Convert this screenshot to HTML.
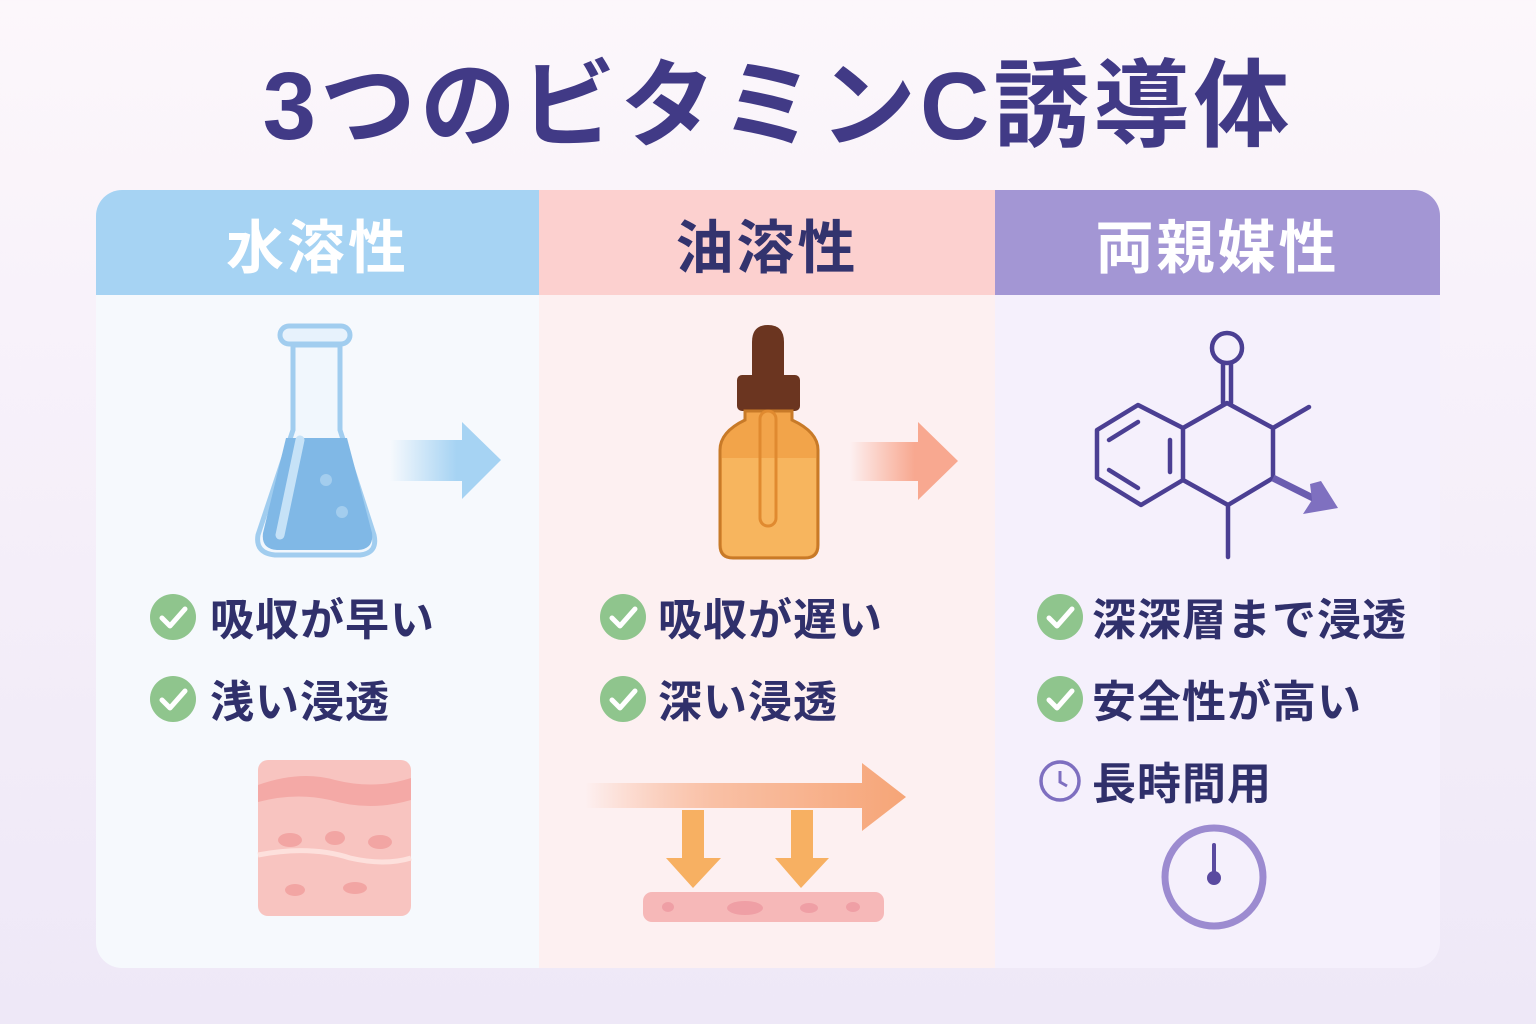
<!DOCTYPE html>
<html><head><meta charset="utf-8"><style>
html,body{margin:0;padding:0}
body{width:1536px;height:1024px;position:relative;overflow:hidden;background:linear-gradient(#fcf7fb 0%,#f8f2fa 30%,#eee8f7 100%);font-family:"Liberation Sans","Noto Sans CJK JP",sans-serif}
.t{position:absolute;white-space:nowrap}
.b{font-size:44px;font-weight:700;color:#30306b;letter-spacing:1px}
</style></head><body>
<div class="t" style="left:0;width:1556px;top:28px;text-align:center;font-size:96px;font-weight:700;color:#413a86;letter-spacing:4px">3つのビタミンC誘導体</div>
<div style="position:absolute;left:96px;top:190px;width:1344px;height:778px;border-radius:26px;overflow:hidden">
 <div style="position:absolute;left:0;top:0;width:443px;height:778px;background:#f6f9fd"></div>
 <div style="position:absolute;left:443px;top:0;width:456px;height:778px;background:#fdf0f1"></div>
 <div style="position:absolute;left:899px;top:0;width:445px;height:778px;background:#f5f0fc"></div>
 <div style="position:absolute;left:0;top:0;width:443px;height:105px;background:#a6d3f3"></div>
 <div style="position:absolute;left:443px;top:0;width:456px;height:105px;background:#fcd0cf"></div>
 <div style="position:absolute;left:899px;top:0;width:445px;height:105px;background:#a396d4"></div>
</div>
<div class="t" style="left:96px;width:443px;top:201px;text-align:center;font-size:58px;font-weight:700;color:#fff;letter-spacing:3px">水溶性</div>
<div class="t" style="left:539px;width:456px;top:201px;text-align:center;font-size:58px;font-weight:700;color:#33336e;letter-spacing:3px">油溶性</div>
<div class="t" style="left:995px;width:445px;top:201px;text-align:center;font-size:58px;font-weight:700;color:#fff;letter-spacing:3px">両親媒性</div>

<svg width="1536" height="1024" style="position:absolute;left:0;top:0">
<defs>
<linearGradient id="ba" x1="0" x2="1"><stop offset="0" stop-color="#a6d3f3" stop-opacity="0"/><stop offset="0.6" stop-color="#a6d3f3"/></linearGradient>
<linearGradient id="oa" x1="0" x2="1"><stop offset="0" stop-color="#f8a48a" stop-opacity="0"/><stop offset="0.6" stop-color="#f8a890"/></linearGradient>
<linearGradient id="oa2" x1="0" x2="1"><stop offset="0" stop-color="#f9b08d" stop-opacity="0"/><stop offset="0.4" stop-color="#f9c0a5"/><stop offset="1" stop-color="#f6a577"/></linearGradient>
</defs>
<rect x="280" y="326" width="70" height="18" rx="9" fill="#e7f2fc" stroke="#a1cdef" stroke-width="5"/>
<path d="M293 345 L293 430 L258 535 Q255 553 275 555 L360 555 Q378 553 374 535 L340 430 L340 345 Z" fill="#f1f7fd" stroke="#a1cdef" stroke-width="5"/>
<path d="M286 438 L347 438 L372 533 Q374 549 358 550 L277 550 Q261 549 263 533 Z" fill="#80b8e6"/>
<path d="M300 440 L280 535" stroke="#c6e2f7" stroke-width="9" stroke-linecap="round"/>
<circle cx="326" cy="480" r="6" fill="#a3cdee"/><circle cx="342" cy="512" r="6" fill="#a3cdee"/>
<path d="M390 440 L462 440 L462 422 L501 460 L462 499 L462 481 L390 481 Z" fill="url(#ba)"/>
<path d="M752 342 Q752 325 768 325 Q784 325 784 342 L784 378 L752 378 Z" fill="#6b3520"/>
<rect x="737" y="375" width="63" height="36" rx="5" fill="#6b3520"/>
<path d="M745 411 L792 411 L792 420 Q818 432 818 450 L818 545 Q818 558 805 558 L733 558 Q720 558 720 545 L720 450 Q720 432 745 420 Z" fill="#f2a44a" stroke="#c87a28" stroke-width="3"/>
<path d="M722 458 L816 458 L816 545 Q816 556 805 556 L733 556 Q722 556 722 545 Z" fill="#f7b55e"/>
<rect x="760" y="411" width="16" height="115" rx="8" fill="none" stroke="#e08a30" stroke-width="3"/>
<path d="M850 442 L918 442 L918 422 L958 461 L918 500 L918 481 L850 481 Z" fill="url(#oa)"/>
<g stroke="#4b3f93" stroke-width="4.5" fill="none" stroke-linecap="round" stroke-linejoin="round">
<circle cx="1227" cy="348" r="15"/>
<path d="M1223 364 L1223 403 M1231 364 L1231 403"/>
<path d="M1227 403 L1273 428 L1273 478 L1228 505 L1183 480 L1183 428 Z"/>
<path d="M1183 428 L1138 405 L1097 430 L1097 478 L1141 505 L1183 480"/>
<path d="M1109 440 L1138 422 M1109 470 L1138 488 M1170 440 L1170 472"/>
<path d="M1273 428 L1309 407 M1228 505 L1228 557"/>
</g>
<path d="M1273 478 L1315 499" stroke="#6a5cb0" stroke-width="7"/>
<path d="M1310 484 L1321 481 L1338 508 L1303 514 L1312 500 Z" fill="#7f70c0"/>
<circle cx="173" cy="617" r="23" fill="#8fc58d"/><circle cx="173" cy="699" r="23" fill="#8fc58d"/>
<circle cx="623" cy="617" r="23" fill="#8fc58d"/><circle cx="623" cy="699" r="23" fill="#8fc58d"/>
<circle cx="1060" cy="617" r="23" fill="#8fc58d"/><circle cx="1060" cy="699" r="23" fill="#8fc58d"/>
<g stroke="#fff" stroke-width="5" fill="none" stroke-linecap="round" stroke-linejoin="round">
<path d="M162 618 L170 626 L185 609"/><path d="M162 700 L170 708 L185 691"/>
<path d="M612 618 L620 626 L635 609"/><path d="M612 700 L620 708 L635 691"/>
<path d="M1049 618 L1057 626 L1072 609"/><path d="M1049 700 L1057 708 L1072 691"/>
</g>
<circle cx="1060" cy="781" r="19" fill="none" stroke="#7e6fc0" stroke-width="3.5"/>
<path d="M1060 771 L1060 782 L1067 786" stroke="#7e6fc0" stroke-width="3" fill="none"/>
<rect x="258" y="760" width="153" height="156" rx="10" fill="#f8c4c0"/>
<path d="M258 785 Q300 770 335 780 Q375 790 411 778 L411 800 Q370 812 330 800 Q295 792 258 802 Z" fill="#f4a9a6"/>
<path d="M258 855 Q310 845 350 858 Q385 866 411 858" stroke="#fde0dc" stroke-width="5" fill="none"/>
<ellipse cx="290" cy="840" rx="12" ry="7" fill="#f2a5a3"/><ellipse cx="335" cy="838" rx="10" ry="7" fill="#f2a5a3"/><ellipse cx="380" cy="842" rx="12" ry="7" fill="#f2a5a3"/>
<ellipse cx="295" cy="890" rx="10" ry="6" fill="#f2a5a3"/><ellipse cx="355" cy="888" rx="12" ry="6" fill="#f2a5a3"/>
<path d="M585 783 L862 783 L862 763 L906 797 L862 831 L862 808 L585 808 Z" fill="url(#oa2)"/>
<path d="M682 810 L704 810 L704 858 L721 858 L693 888 L666 858 L682 858 Z" fill="#f7b062"/>
<path d="M791 810 L813 810 L813 858 L829 858 L801 888 L775 858 L791 858 Z" fill="#f7b062"/>
<rect x="643" y="892" width="241" height="30" rx="9" fill="#f6b8b8"/>
<ellipse cx="668" cy="907" rx="6" ry="5" fill="#ef9fa5"/><ellipse cx="745" cy="908" rx="18" ry="7" fill="#ef9fa5"/><ellipse cx="809" cy="908" rx="9" ry="5" fill="#ef9fa5"/><ellipse cx="853" cy="907" rx="7" ry="5" fill="#ef9fa5"/>
<circle cx="1214" cy="877" r="49" fill="none" stroke="#9c8bd0" stroke-width="7"/>
<path d="M1214 845 L1214 875" stroke="#5a4aa0" stroke-width="4" stroke-linecap="round"/>
<circle cx="1214" cy="878" r="7" fill="#5a4aa0"/>
</svg>
<div class="t b" style="left:210px;top:584px">吸収が早い</div>
<div class="t b" style="left:210px;top:666px">浅い浸透</div>
<div class="t b" style="left:658px;top:584px">吸収が遅い</div>
<div class="t b" style="left:658px;top:666px">深い浸透</div>
<div class="t b" style="left:1092px;top:584px">深深層まで浸透</div>
<div class="t b" style="left:1092px;top:666px">安全性が高い</div>
<div class="t b" style="left:1092px;top:748px">長時間用</div>
</body></html>
